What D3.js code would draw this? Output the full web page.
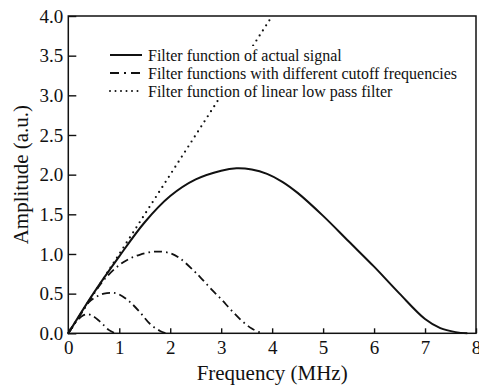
<!DOCTYPE html>
<html>
<head>
<meta charset="utf-8">
<script src="https://cdn.jsdelivr.net/npm/d3@7"></script>
<style>
  body { margin: 0; background: #fff; }
</style>
</head>
<body>
<div id="chart"></div>
<script>
// values
var solidFreq = [0, 0.5, 1.0, 1.5, 2.0, 2.5, 3.0, 3.3, 3.6, 3.9, 4.2, 4.5, 5.0, 5.5, 6.0, 6.5, 7.0, 7.3, 7.6, 7.83];
var solidAmp  = [0, 0.51, 0.97, 1.40, 1.73, 1.94, 2.05, 2.08, 2.065, 2.01, 1.91, 1.77, 1.48, 1.16, 0.84, 0.50, 0.18, 0.065, 0.015, 0];

var cutLargeFreq = [0, 0.25, 0.5, 0.75, 1.0, 1.2, 1.4, 1.7, 2.0, 2.2, 2.46, 2.6, 2.8, 3.0, 3.2, 3.4, 3.6, 3.8];
var cutLargeAmp  = [0, 0.25, 0.5, 0.71, 0.86, 0.94, 0.99, 1.03, 1.01, 0.94, 0.79, 0.70, 0.56, 0.43, 0.29, 0.16, 0.06, 0];

var cutMidFreq = [0, 0.2, 0.4, 0.55, 0.7, 0.88, 1.0, 1.2, 1.4, 1.6, 1.8, 1.92];
var cutMidAmp  = [0, 0.2, 0.39, 0.46, 0.50, 0.51, 0.49, 0.40, 0.27, 0.12, 0.03, 0];

var cutSmallFreq = [0, 0.1, 0.2, 0.3, 0.4, 0.5, 0.6, 0.7, 0.8, 0.92];
var cutSmallAmp  = [0, 0.1, 0.18, 0.23, 0.24, 0.21, 0.16, 0.10, 0.04, 0];

var linearFreq = [0, 4];
var linearAmp  = [0, 4];

var xTicks = [0, 1, 2, 3, 4, 5, 6, 7, 8];
var yTicks = [0, 0.5, 1.0, 1.5, 2.0, 2.5, 3.0, 3.5, 4.0];

var legendLabels = [
  "Filter function of actual signal",
  "Filter functions with different cutoff frequencies",
  "Filter function of linear low pass filter"
];

(function() {
  var width = 479,
      height = 389,
      x0 = 68.3, x1 = 476, y0 = 333.3, y1 = 16;   // plot box
  var serif = '"Liberation Serif", "DejaVu Serif", "Times New Roman", serif';

  var svg = d3.select("#chart").append("svg")
      .attr("width", width)
      .attr("height", height)
      .style("font-family", serif);

  var x = d3.scaleLinear().domain([0, 8]).range([x0, x1]);
  var y = d3.scaleLinear().domain([0, 4]).range([y0, y1]);

  function zip(fs, as) {
    return fs.map(function(f, i) { return [f, as[i]]; });
  }

  var line = d3.line()
      .x(function(d) { return x(d[0]); })
      .y(function(d) { return y(d[1]); })
      .curve(d3.curveCatmullRom.alpha(0.5));

  var dashDot = "8,4,1.6,4";

  // curves
  svg.append("path")
      .attr("d", line(zip(linearFreq, linearAmp)))
      .attr("fill", "none").attr("stroke", "#111")
      .attr("stroke-width", 2.2).attr("stroke-linecap", "round")
      .attr("stroke-dasharray", "0,6");

  [[cutLargeFreq, cutLargeAmp], [cutMidFreq, cutMidAmp], [cutSmallFreq, cutSmallAmp]].forEach(function(s) {
    svg.append("path")
        .attr("d", line(zip(s[0], s[1])))
        .attr("fill", "none").attr("stroke", "#111")
        .attr("stroke-width", 1.8)
        .attr("stroke-dasharray", dashDot);
  });

  svg.append("path")
      .attr("d", line(zip(solidFreq, solidAmp)))
      .attr("fill", "none").attr("stroke", "#111")
      .attr("stroke-width", 2);

  // axes
  var xAxis = svg.append("g")
      .attr("transform", "translate(0," + y0 + ")")
      .call(d3.axisBottom(x).tickValues(xTicks).tickFormat(d3.format("d"))
        .tickSize(-5).tickSizeOuter(0).tickPadding(7));

  var yAxis = svg.append("g")
      .attr("transform", "translate(" + x0 + ",0)")
      .call(d3.axisLeft(y).tickValues(yTicks).tickFormat(d3.format(".1f"))
        .tickSize(-8).tickSizeOuter(0).tickPadding(5));

  [xAxis, yAxis].forEach(function(g) {
    g.attr("font-family", null).style("font-family", serif);
    g.select(".domain").remove();
    g.selectAll("line").attr("stroke", "#111").attr("stroke-width", 1.4);
    g.selectAll("text").attr("font-size", 19).style("font-family", serif).attr("fill", "#111");
  });

  // frame
  svg.append("rect")
      .attr("x", x0).attr("y", y1)
      .attr("width", x1 - x0).attr("height", y0 - y1)
      .attr("fill", "none").attr("stroke", "#111").attr("stroke-width", 1.5);

  // legend (white box hides dotted line behind it)
  var legend = svg.append("g");
  legend.append("rect")
      .attr("x", 104).attr("y", 46).attr("width", 360).attr("height", 54)
      .attr("fill", "#fff");

  var styles = [null, "9,5,2,5", "0,5.5"];
  legendLabels.forEach(function(label, i) {
    var cy = 55 + i * 18;
    legend.append("line")
        .attr("x1", 110).attr("x2", 142).attr("y1", cy).attr("y2", cy)
        .attr("stroke", "#111")
        .attr("stroke-width", 2)
        .attr("stroke-linecap", i == 2 ? "round" : "butt")
        .attr("stroke-dasharray", styles[i]);
    legend.append("text")
        .attr("x", 148).attr("y", cy + 5.5)
        .attr("font-size", 16)
        .attr("fill", "#111")
        .style("font-family", serif)
        .text(label);
  });

  // titles
  svg.append("text")
      .attr("x", (x0 + x1) / 2).attr("y", 380)
      .attr("text-anchor", "middle")
      .attr("font-size", 21)
      .attr("fill", "#111")
      .style("font-family", serif)
      .text("Frequency (MHz)");

  svg.append("text")
      .attr("transform", "translate(28," + ((y0 + y1) / 2) + ") rotate(-90)")
      .attr("text-anchor", "middle")
      .attr("font-size", 21)
      .attr("fill", "#111")
      .style("font-family", serif)
      .text("Amplitude (a.u.)");
})();
</script>
</body>
</html>
